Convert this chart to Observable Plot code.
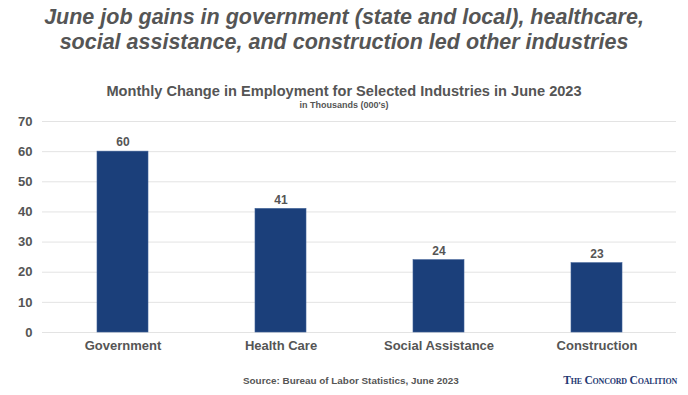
<!DOCTYPE html>
<html>
<head>
<meta charset="utf-8">
<script src="https://cdn.jsdelivr.net/npm/d3@7"></script>
<script src="https://cdn.jsdelivr.net/npm/@observablehq/plot@0.6"></script>
<style>
  html, body { margin: 0; padding: 0; background: #fff; }
  #wrap { position: relative; width: 688px; height: 395px; overflow: hidden; font-family: "Liberation Sans", Arial, sans-serif; }
  #title { position: absolute; top: 5px; left: 0; width: 688px; text-align: center; font-size: 21.5px; line-height: 25px; font-weight: bold; font-style: italic; color: #555; }
  #sub { position: absolute; top: 83px; left: 0; width: 688px; text-align: center; font-size: 14.6px; line-height: 16px; font-weight: bold; color: #555; }
  #sub2 { position: absolute; top: 100px; left: 0; width: 688px; text-align: center; font-size: 9px; line-height: 10px; font-weight: bold; color: #555; }
  #chart { position: absolute; top: 105px; left: 0; }
  #source { position: absolute; top: 375px; left: 243px; font-size: 9.9px; font-weight: bold; color: #555; }
  #logo { position: absolute; top: 374px; right: 11px; font-family: "Liberation Serif", "DejaVu Serif", serif; font-weight: bold; font-variant: small-caps; font-size: 11.5px; color: #1f3a72; letter-spacing: -0.2px; }
</style>
</head>
<body>
<div id="wrap">
  <div id="title">June job gains in government (state and local), healthcare,<br>social assistance, and construction led other industries</div>
  <div id="sub">Monthly Change in Employment for Selected Industries in June 2023</div>
  <div id="sub2">in Thousands (000's)</div>
  <div id="chart"></div>
  <div id="source">Source: Bureau of Labor Statistics, June 2023</div>
  <div id="logo">The Concord Coalition</div>
</div>
<script>
const industries = ["Government", "Health Care", "Social Assistance", "Construction"];
const jobs = [60, 41, 24, 23];
const yTicks = [0, 10, 20, 30, 40, 50, 60, 70];

const data = industries.map((d, i) => ({industry: d, value: jobs[i]}));

const chart = Plot.plot({
  width: 688,
  height: 255,
  marginTop: 16,
  marginBottom: 28,
  marginLeft: 42,
  marginRight: 12,
  style: {fontFamily: "Liberation Sans, Arial, sans-serif", background: "transparent"},
  x: {domain: industries, paddingInner: 0.68, paddingOuter: 0.34, label: null},
  y: {domain: [0, 70], ticks: yTicks, label: null},
  marks: [
    Plot.gridY(yTicks, {stroke: "#e3e3e3", strokeOpacity: 1, strokeWidth: 1}),
    Plot.axisY({ticks: yTicks, tickSize: 0, tickPadding: 10, fontSize: 13, fontWeight: "bold", fill: "#555", label: null}),
    Plot.axisX({tickSize: 0, tickPadding: 8, fontSize: 13, fontWeight: "bold", fill: "#555", label: null}),
    Plot.barY(data, {x: "industry", y: "value", fill: "#1b3f7a", stroke: "#3d5f96", strokeWidth: 0.6}),
    Plot.text(data, {x: "industry", y: "value", text: d => String(d.value), dy: -9, fontSize: 12, fontWeight: "bold", fill: "#555"})
  ]
});
document.getElementById("chart").appendChild(chart);
</script>
</body>
</html>
